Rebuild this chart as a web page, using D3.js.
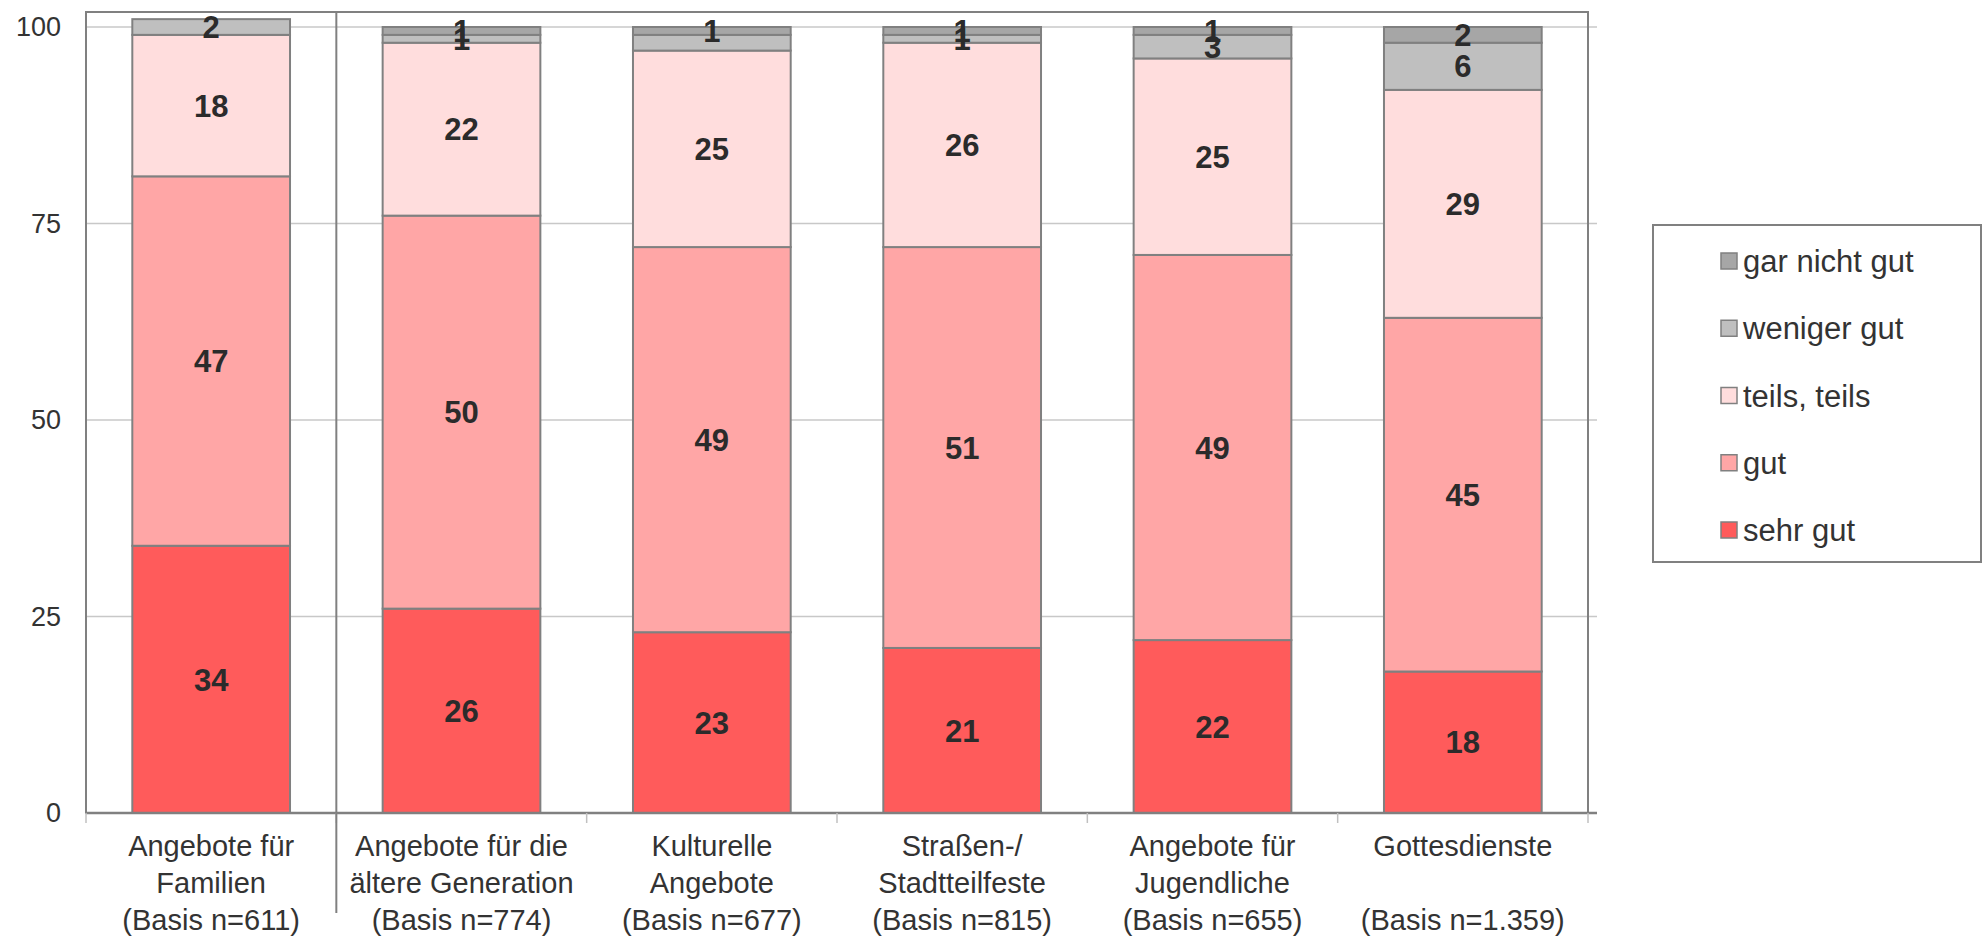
<!DOCTYPE html>
<html>
<head>
<meta charset="utf-8">
<script src="https://cdn.jsdelivr.net/npm/d3@7"></script>
<style>
  body { margin: 0; background: #fff; }
  svg { display: block; font-family: "Liberation Sans", Arial, sans-serif; }
</style>
</head>
<body>
<svg id="chart" width="1984" height="938"></svg>
<script>
// categories (label lines)
const categories = [
  ["Angebote für", "Familien", "(Basis n=611)"],
  ["Angebote für die", "ältere Generation", "(Basis n=774)"],
  ["Kulturelle", "Angebote", "(Basis n=677)"],
  ["Straßen-/", "Stadtteilfeste", "(Basis n=815)"],
  ["Angebote für", "Jugendliche", "(Basis n=655)"],
  ["Gottesdienste", "", "(Basis n=1.359)"],
];

// series, stacked bottom to top
const seriesNames = ["sehr gut", "gut", "teils, teils", "weniger gut", "gar nicht gut"];
const sehrGut = [34, 26, 23, 21, 22, 18];
const gut = [47, 50, 49, 51, 49, 45];
const teilsTeils = [18, 22, 25, 26, 25, 29];
const wenigerGut = [2, 1, 2, 1, 3, 6];
const garNichtGut = [0, 1, 1, 1, 1, 2];

// printed labels (null = not printed in the original)
const wenigerGutLabels = [2, 1, null, 1, 3, 6];

const yTicks = [0, 25, 50, 75, 100];

const colors = ["#ff5b5b", "#ffa6a6", "#ffdddd", "#bfbfbf", "#a6a6a6"];
const lineColor = "#808080";
const textColor = "#333333";

const margin = { left: 86, right: 1588, top: 12, bottom: 813 };

const svg = d3.select("#chart");

const xScale = d3
  .scaleBand()
  .domain(d3.range(categories.length))
  .range([margin.left, margin.right])
  .paddingInner(0.37)
  .paddingOuter(0.185);

const yScale = d3.scaleLinear().domain([0, 100]).range([margin.bottom, 27]);

const values = [sehrGut, gut, teilsTeils, wenigerGut, garNichtGut];
const labels = [sehrGut, gut, teilsTeils, wenigerGutLabels, garNichtGut];

const table = categories.map((c, i) => {
  const row = { index: i };
  seriesNames.forEach((s, k) => (row[s] = values[k][i]));
  return row;
});
const stacked = d3.stack().keys(seriesNames)(table);

function appendGrid() {
  svg
    .append("g")
    .selectAll("line")
    .data(yTicks)
    .join("line")
    .attr("x1", margin.left)
    .attr("x2", margin.right + 9)
    .attr("y1", (d) => yScale(d))
    .attr("y2", (d) => yScale(d))
    .attr("stroke", "#c8c8c8")
    .attr("stroke-width", 1.5);
}

function appendYAxis() {
  const axis = svg
    .append("g")
    .attr("transform", `translate(${margin.left},0)`)
    .call(d3.axisLeft(yScale).tickValues(yTicks).tickSize(0).tickPadding(25));
  axis.select(".domain").remove();
  axis
    .selectAll("text")
    .attr("fill", textColor)
    .style("font-size", "27px")
    .style("font-family", "Liberation Sans, Arial, sans-serif");
}

function appendBars() {
  const groups = svg
    .append("g")
    .selectAll("g")
    .data(stacked)
    .join("g")
    .attr("fill", (d, k) => colors[k]);

  groups
    .selectAll("rect")
    .data((d) => d.filter((p) => p[1] - p[0] > 0))
    .join("rect")
    .attr("x", (p) => xScale(p.data.index))
    .attr("width", xScale.bandwidth())
    .attr("y", (p) => yScale(p[1]))
    .attr("height", (p) => yScale(p[0]) - yScale(p[1]))
    .attr("stroke", lineColor)
    .attr("stroke-width", 2);
}

function appendLabels() {
  stacked.forEach((layer, k) => {
    svg
      .append("g")
      .selectAll("text")
      .data(layer.filter((p) => labels[k][p.data.index]))
      .join("text")
      .attr("x", (p) => xScale(p.data.index) + xScale.bandwidth() / 2)
      .attr("y", (p) => yScale((p[0] + p[1]) / 2))
      .attr("dy", "0.36em")
      .attr("text-anchor", "middle")
      .attr("fill", "#2b2b2b")
      .style("font-size", "31px")
      .style("font-weight", "bold")
      .text((p) => labels[k][p.data.index]);
  });
}

function appendFrame() {
  const step = xScale.step();
  const bounds = d3.range(categories.length + 1).map((i) => margin.left + i * step);

  svg
    .append("rect")
    .attr("x", margin.left)
    .attr("y", margin.top)
    .attr("width", margin.right - margin.left)
    .attr("height", margin.bottom - margin.top)
    .attr("fill", "none")
    .attr("stroke", lineColor)
    .attr("stroke-width", 2);

  // x axis line and ticks
  svg
    .append("line")
    .attr("x1", margin.left)
    .attr("x2", margin.right + 9)
    .attr("y1", margin.bottom)
    .attr("y2", margin.bottom)
    .attr("stroke", lineColor)
    .attr("stroke-width", 2.5);

  svg
    .append("g")
    .selectAll("line")
    .data(bounds)
    .join("line")
    .attr("x1", (d) => d)
    .attr("x2", (d) => d)
    .attr("y1", margin.bottom)
    .attr("y2", margin.bottom + 10)
    .attr("stroke", "#c0c0c0")
    .attr("stroke-width", 1.5);

  // separator after first category
  svg
    .append("line")
    .attr("x1", bounds[1])
    .attr("x2", bounds[1])
    .attr("y1", margin.top)
    .attr("y2", 913)
    .attr("stroke", lineColor)
    .attr("stroke-width", 2);
}

function appendCategoryLabels() {
  const lineY = [846, 883, 920];
  const g = svg.append("g");
  categories.forEach((lines, i) => {
    lines.forEach((t, j) => {
      g.append("text")
        .attr("x", xScale(i) + xScale.bandwidth() / 2)
        .attr("y", lineY[j])
        .attr("dy", "0.36em")
        .attr("text-anchor", "middle")
        .attr("fill", textColor)
        .style("font-size", "29px")
        .text(t);
    });
  });
}

function appendLegend() {
  const g = svg.append("g");
  g.append("rect")
    .attr("x", 1653)
    .attr("y", 225)
    .attr("width", 328)
    .attr("height", 337)
    .attr("fill", "#fff")
    .attr("stroke", lineColor)
    .attr("stroke-width", 2);

  const order = d3.range(seriesNames.length).reverse();
  const rowY = d3.scalePoint().domain(order).range([261, 530]);

  const items = g
    .selectAll("g")
    .data(order)
    .join("g")
    .attr("transform", (k) => `translate(1721,${rowY(k)})`);

  items
    .append("rect")
    .attr("x", 0)
    .attr("y", -8)
    .attr("width", 16)
    .attr("height", 16)
    .attr("fill", (k) => colors[k])
    .attr("stroke", lineColor)
    .attr("stroke-width", 1.5);

  items
    .append("text")
    .attr("x", 22)
    .attr("dy", "0.36em")
    .attr("fill", textColor)
    .style("font-size", "31px")
    .text((k) => seriesNames[k]);
}

appendGrid();
appendBars();
appendLabels();
appendFrame();
appendYAxis();
appendCategoryLabels();
appendLegend();
</script>
</body>
</html>
